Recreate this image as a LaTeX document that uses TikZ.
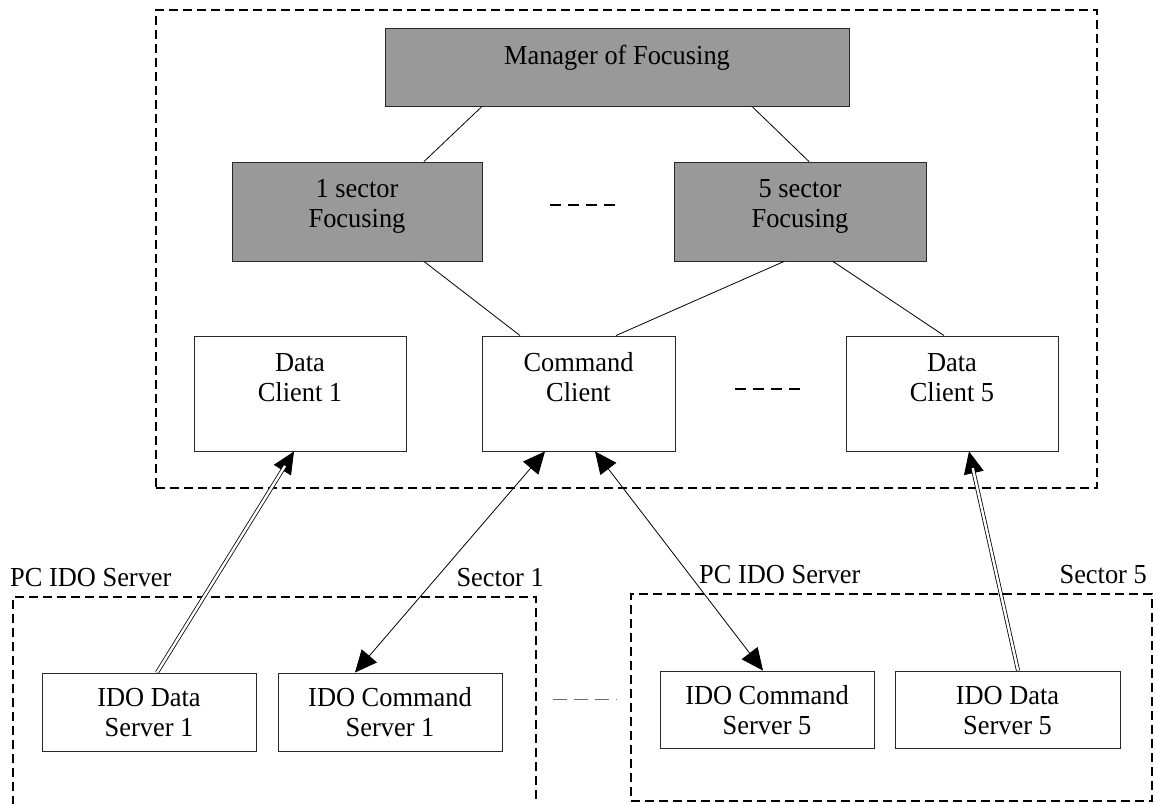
\documentclass[tikz,border=0pt]{standalone}
\usepackage{fontspec}
\setmainfont{Liberation Serif}[FakeStretch=0.96]
\usetikzlibrary{arrows.meta,calc}
\definecolor{boxgray}{RGB}{153,153,153}
\definecolor{bordergray}{RGB}{40,40,40}
\definecolor{sepgray}{RGB}{110,110,110}
\begin{document}
\begin{tikzpicture}[x=1pt,y=-1pt,
  box/.style={draw=bordergray, line width=0.9pt, inner sep=0pt},
  gbox/.style={box, fill=boxgray},
  txt/.style={anchor=north, inner sep=0pt, align=center, font=\fontsize{27.5}{30}\selectfont},
  lbl/.style={inner sep=0pt, font=\fontsize{27.5}{30}\selectfont},
  frame/.style={draw=black, line width=1.6pt, dash pattern=on 9pt off 5pt, inner sep=0pt},
  link/.style={draw=black, line width=0.8pt},
  head/.tip={Triangle[length=22pt,width=20pt]},
  onehead/.style={link, -head},
  twohead/.style={link, head-head},
  dbl/.style={draw=black, line width=0.8pt, double=white, double distance=2.4pt, shorten >=17pt},
  dots/.style={draw=black, line width=2.7pt, dash pattern=on 11pt off 7pt},
  thindots/.style={draw=sepgray, line width=1pt, dash pattern=on 14pt off 7pt}
]
\useasboundingbox (0,0) rectangle (1155,803);

% outer frame
\node[frame, minimum width=941pt, minimum height=478pt] (outer) at (626.5,249) {};

% focusing boxes
\node[gbox, minimum width=464pt, minimum height=78pt] (mgr) at (617,67) {};
\node[txt] (mgrt) at ([yshift=-16pt]mgr.north) {\strut Manager of Focusing};

\node[gbox, minimum width=250pt, minimum height=99pt] (s1) at (357,211.5) {};
\node[txt] (s1t) at ([yshift=-15pt]s1.north) {\strut 1 sector\\Focusing};

\node[gbox, minimum width=252pt, minimum height=99pt] (s5) at (800,211.5) {};
\node[txt] (s5t) at ([yshift=-15pt]s5.north) {\strut 5 sector\\Focusing};

% clients
\node[box, minimum width=212pt, minimum height=115pt] (dc1) at (300,393.5) {};
\node[txt] (dc1t) at ([yshift=-15pt]dc1.north) {\strut Data\\Client 1};

\node[box, minimum width=193pt, minimum height=115pt] (cc) at (578.5,393.5) {};
\node[txt] (cct) at ([yshift=-15pt]cc.north) {\strut Command\\Client};

\node[box, minimum width=212pt, minimum height=115pt] (dc5) at (952,393.5) {};
\node[txt] (dc5t) at ([yshift=-15pt]dc5.north) {\strut Data\\Client 5};

% ellipsis dashes
\draw[dots] (550,205) -- (615,205);
\draw[dots] (735,389) -- (800,389);

% lower frames
\draw[frame] (13,805) -- (13,597) -- (536,597) -- (536,805);
\node[frame, minimum width=521pt, minimum height=207pt] (rframe) at (891.5,697.5) {};

\node[lbl, anchor=base west] (pcl) at (10,586) {PC IDO Server};
\node[lbl, anchor=base east] (sec1) at (544,586) {Sector 1};
\node[lbl, anchor=base west] (pcr) at (699,583) {PC IDO Server};
\node[lbl, anchor=base east] (sec5) at (1147,583) {Sector 5};

% servers
\node[box, minimum width=214pt, minimum height=78pt] (ids1) at (149,712) {};
\node[txt] (ids1t) at ([yshift=-13pt]ids1.north) {\strut IDO Data\\Server 1};

\node[box, minimum width=224pt, minimum height=78pt] (ics1) at (390,712) {};
\node[txt] (ics1t) at ([yshift=-13pt]ics1.north) {\strut IDO Command\\Server 1};

\node[box, minimum width=214pt, minimum height=77pt] (ics5) at (767,709.5) {};
\node[txt] (ics5t) at ([yshift=-13pt]ics5.north) {\strut IDO Command\\Server 5};

\node[box, minimum width=225pt, minimum height=77pt] (ids5) at (1007.5,709.5) {};
\node[txt] (ids5t) at ([yshift=-13pt]ids5.north) {\strut IDO Data\\Server 5};

\draw[thindots] (553,699) -- (617,699);

% tree lines
\draw[link] ([xshift=-135pt]mgr.south) -- ([xshift=67pt]s1.north);
\draw[link] ([xshift=135pt]mgr.south) -- ([xshift=9pt]s5.north);
\draw[link] ([xshift=67pt]s1.south) -- ([xshift=-58.5pt]cc.north);
\draw[link] ([xshift=-16pt]s5.south) -- ([xshift=37.5pt]cc.north);
\draw[link] ([xshift=33pt]s5.south) -- ([xshift=-8pt]dc5.north);

% command arrows
\draw[twohead] ([xshift=-33.5pt]cc.south) -- ([xshift=-35pt]ics1.north);
\draw[twohead] ([xshift=16.5pt]cc.south) -- ([xshift=-4pt]ics5.north);

% data arrows (double lines)
\draw[onehead] ([xshift=8pt]ids1.north) -- ([xshift=-6pt]dc1.south);
\draw[dbl] ([xshift=8pt]ids1.north) -- ([xshift=-6pt]dc1.south);
\draw[onehead] ([xshift=10.5pt]ids5.north) -- ([xshift=17pt]dc5.south);
\draw[dbl] ([xshift=10.5pt]ids5.north) -- ([xshift=17pt]dc5.south);
\end{tikzpicture}
\end{document}
